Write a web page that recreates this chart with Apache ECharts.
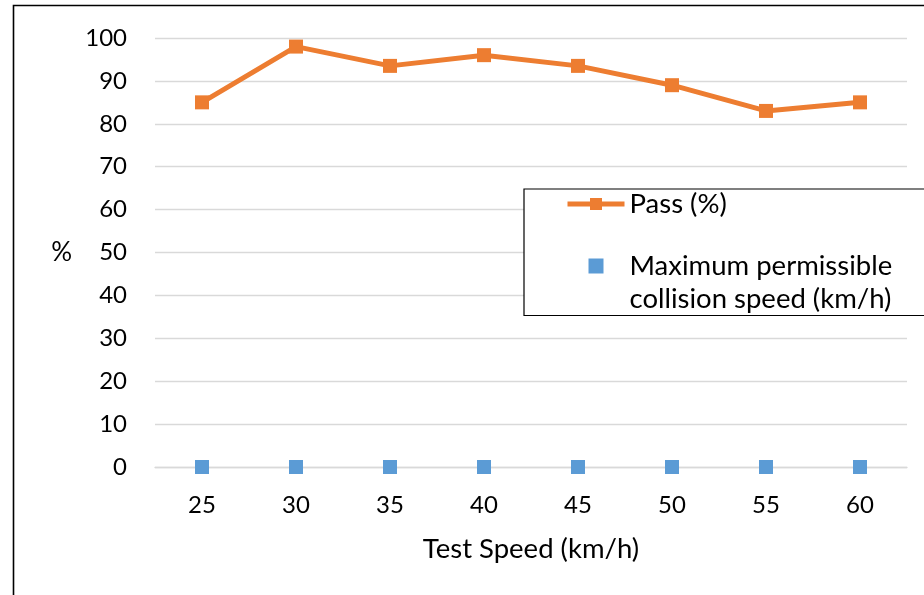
<!DOCTYPE html>
<html>
<head>
<meta charset="utf-8">
<script src="https://cdn.jsdelivr.net/npm/echarts@6/dist/echarts.min.js"></script>
<style>
html,body{margin:0;padding:0;background:#fff;}
#chart{width:924px;height:595px;}
</style>
</head>
<body>
<div id="chart"></div>
<script>
const categories = ['25', '30', '35', '40', '45', '50', '55', '60'];
const passValues = [85, 98, 93.5, 96, 93.5, 89, 83, 85];
const maxCollisionValues = [0, 0, 0, 0, 0, 0, 0, 0];
const yTicks = { min: 0, max: 100, interval: 10 };
const seriesNames = ['Pass (%)', 'Maximum permissible collision speed (km/h)'];

const FONT = 'Lato';
const chart = echarts.init(document.getElementById('chart'), null, { renderer: 'canvas' });
chart.setOption({
  animation: false,
  backgroundColor: '#fff',
  textStyle: { fontFamily: FONT },
  graphic: [{
    type: 'rect',
    shape: { x: 13.5, y: 5.5, width: 1200, height: 1200 },
    style: { fill: 'none', stroke: '#000', lineWidth: 1.6 },
    silent: true
  }],
  grid: { left: 155, right: 17, top: 38, bottom: 128 },
  legend: {
    orient: 'vertical',
    left: 524,
    top: 189,
    padding: [0, 300, 0, 41],
    itemWidth: 57,
    itemHeight: 15,
    itemGap: -2.5,
    backgroundColor: '#fff',
    borderColor: '#000',
    borderWidth: 1.2,
    textStyle: {
      fontFamily: FONT, fontSize: 27.5, color: '#000', lineHeight: 30,
      rich: {
        e: { fontFamily: FONT, fontSize: 27.5, lineHeight: 33 },
        a: { fontFamily: FONT, fontSize: 27.5, color: '#000', lineHeight: 33 }
      }
    },
    formatter: function (name) {
      return name === seriesNames[1]
        ? '{e| }\n{a|Maximum permissible}\n{a|collision speed (km/h)}'
        : name;
    },
    data: [
      { name: seriesNames[0], lineStyle: { width: 5, color: '#ED7D31' } },
      { name: seriesNames[1], icon: 'path://M0,0H10V10H0Z', symbolKeepAspect: true,
        itemStyle: { color: '#5B9BD5', opacity: 1 } }
    ]
  },
  xAxis: {
    type: 'category',
    data: categories,
    boundaryGap: true,
    name: 'Test Speed (km/h)',
    nameLocation: 'middle',
    nameGap: 68,
    nameTextStyle: { fontFamily: FONT, fontSize: 27.5, color: '#000' },
    axisLine: { show: true, lineStyle: { color: '#D9D9D9', width: 1.3 } },
    axisTick: { show: false },
    axisLabel: { fontFamily: FONT, fontSize: 24, color: '#000', margin: 26 }
  },
  yAxis: {
    type: 'value',
    min: yTicks.min,
    max: yTicks.max,
    interval: yTicks.interval,
    name: '%',
    nameLocation: 'middle',
    nameRotate: 0,
    nameGap: 83,
    nameTextStyle: { fontFamily: FONT, fontSize: 26, color: '#000' },
    axisLine: { show: false },
    axisTick: { show: false },
    axisLabel: { fontFamily: FONT, fontSize: 24, color: '#000', margin: 28 },
    splitLine: { lineStyle: { color: '#D9D9D9', width: 1.3 } }
  },
  series: [
    {
      name: seriesNames[0],
      type: 'line',
      data: passValues,
      symbol: 'rect',
      symbolSize: 14,
      itemStyle: { color: '#ED7D31' },
      lineStyle: { color: '#ED7D31', width: 5 },
      z: 3
    },
    {
      name: seriesNames[1],
      type: 'scatter',
      data: maxCollisionValues,
      symbol: 'rect',
      symbolSize: 14,
      itemStyle: { color: '#5B9BD5', opacity: 1 },
      z: 2
    }
  ]
});
</script>
</body>
</html>
